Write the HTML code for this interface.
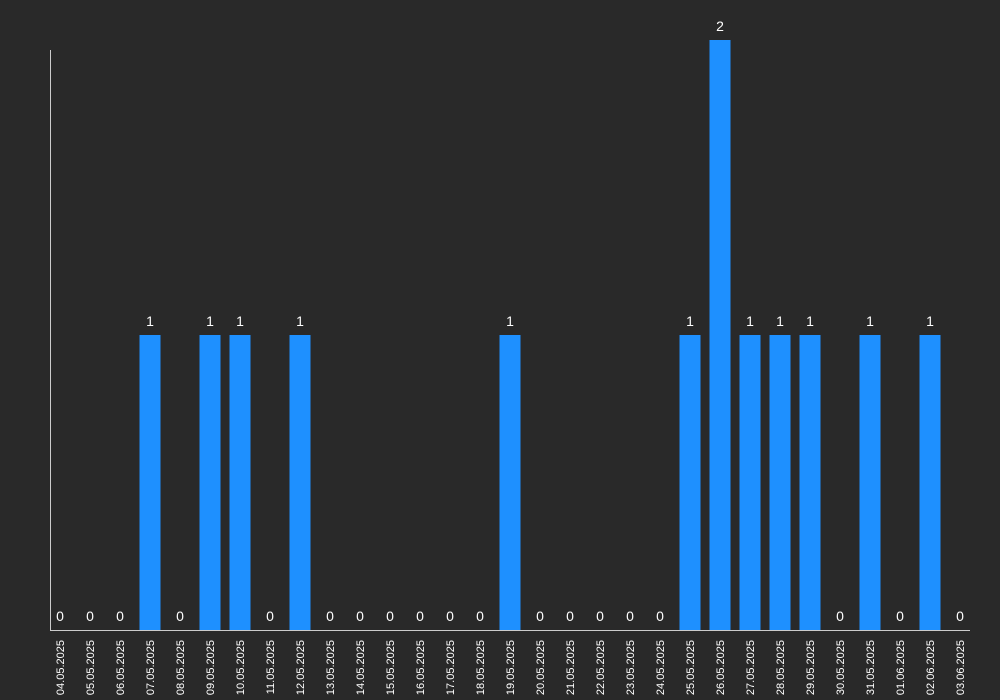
<!DOCTYPE html>
<html><head><meta charset="utf-8"><style>
body{margin:0;background:#292929;}
svg{display:block;font-family:"Liberation Sans",sans-serif;}
</style></head><body>
<svg id="chart" width="1000" height="700">
<rect width="1000" height="700" fill="#292929"/>
<g id="bars"></g><g id="labels"></g><g id="ticks"></g>
<line x1="50.5" y1="50" x2="50.5" y2="630" stroke="#cccccc" stroke-width="1"/>
<line x1="50" y1="630.5" x2="970" y2="630.5" stroke="#cccccc" stroke-width="1"/>
</svg>
<script>
const categories=["04.05.2025","05.05.2025","06.05.2025","07.05.2025","08.05.2025","09.05.2025","10.05.2025","11.05.2025","12.05.2025","13.05.2025","14.05.2025","15.05.2025","16.05.2025","17.05.2025","18.05.2025","19.05.2025","20.05.2025","21.05.2025","22.05.2025","23.05.2025","24.05.2025","25.05.2025","26.05.2025","27.05.2025","28.05.2025","29.05.2025","30.05.2025","31.05.2025","01.06.2025","02.06.2025","03.06.2025"];
const values=[0,0,0,1,0,1,1,0,1,0,0,0,0,0,0,1,0,0,0,0,0,1,2,1,1,1,0,1,0,1,0];
const yMax=2;
const NS="http://www.w3.org/2000/svg";
const x0=45,step=30,bw=21,yBase=630,yTop=40;
function xScale(i){return x0+step*i+step/2;}
function yScale(v){return yBase-(yBase-yTop)*v/yMax;}
const gb=document.getElementById('bars'),gl=document.getElementById('labels'),gt=document.getElementById('ticks');
categories.forEach((c,i)=>{
  const v=values[i],cx=xScale(i),y=yScale(v);
  const r=document.createElementNS(NS,'rect');
  r.setAttribute('x',cx-bw/2);r.setAttribute('y',y);r.setAttribute('width',bw);r.setAttribute('height',Math.max(yBase-y,0));
  r.setAttribute('fill','#1e90ff');
  
  
  gb.appendChild(r);
  const t=document.createElementNS(NS,'text');
  t.setAttribute('x',cx);t.setAttribute('y',y-9);t.setAttribute('text-anchor','middle');
  t.setAttribute('fill','#ffffff');t.setAttribute('font-size','14');
  t.textContent=v;
  
  
  gl.appendChild(t);
  const k=document.createElementNS(NS,'text');
  k.setAttribute('transform','translate('+(cx+4)+',640) rotate(-90)');
  k.setAttribute('text-anchor','end');k.setAttribute('fill','#ffffff');k.setAttribute('font-size','11');
  k.textContent=c;
  
  
  gt.appendChild(k);
});
</script>
</body></html>
